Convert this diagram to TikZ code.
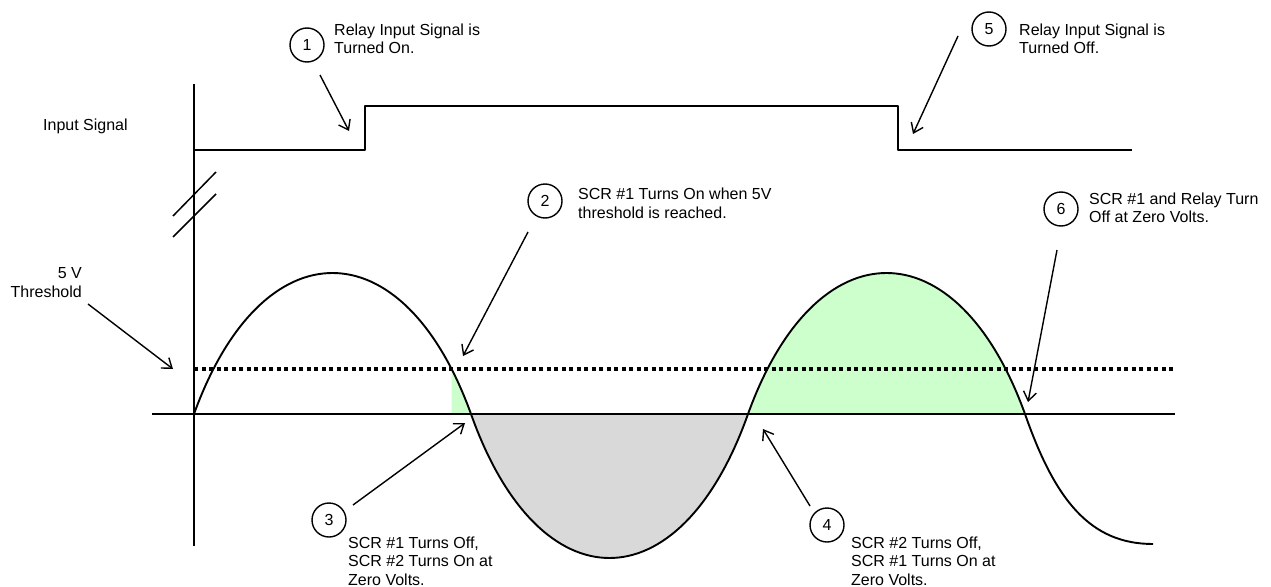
\documentclass[tikz,border=0pt]{standalone}
\usepackage{fontspec}
\setmainfont{Liberation Sans}
\usetikzlibrary{arrows.meta}
\definecolor{onfill}{HTML}{CCFFCC}
\definecolor{offfill}{HTML}{D9D9D9}
\begin{document}
\begin{tikzpicture}[x=1pt,y=-1pt,
  wave/.style={line width=1.9pt, line join=round},
  thin line/.style={line width=1.5pt},
  ptr/.style={line width=1.4pt, -{Straight Barb[length=9pt,width=13pt,line width=1.4pt]}},
  num/.style={circle, draw, line width=1.4pt, minimum size=34pt, inner sep=0pt, font=\fontsize{16}{18.5}\selectfont},
  lbl/.style={font=\fontsize{16}{18.5}\selectfont, inner sep=0pt, align=left, anchor=north west},
  thr/.style={line width=3.5pt, dash pattern=on 4pt off 3.5pt}]
\useasboundingbox (0,0) rectangle (1271,586);

% fills
\begin{scope}
  \clip (451.5,300) rectangle (471,414);
  \fill[onfill] (194,414) .. controls (262,226) and (403,226) .. (471,414) -- cycle;
\end{scope}
\fill[offfill] (471,414) .. controls (539,606) and (680,606) .. (748,414) -- cycle;
\fill[onfill] (748,414) .. controls (816,226) and (957,226) .. (1025,414) -- cycle;

% axes
\draw[wave] (194,84) -- (194,546);
\draw[wave] (152,414) -- (1175,414);
\draw[thin line] (173,216) -- (216,172);
\draw[thin line] (173,237) -- (216,194);

% input signal
\draw[wave] (194,150) -- (365,150) -- (365,106) -- (898,106) -- (898,150) -- (1132,150);

% threshold
\draw[thr] (194,369) -- (1173,369);

% waveform
\draw[wave] (194,414) .. controls (262,226) and (403,226) .. (471,414)
  .. controls (539,606) and (680,606) .. (748,414)
  .. controls (816,226) and (957,226) .. (1025,414)
  .. controls (1055,500) and (1090,544) .. (1153,544);

% labels
\node[lbl, anchor=base west] (insig) at (43,130) {Input Signal};
\node[lbl, align=right, anchor=north east] (thlbl) at (82,267.3) {5 V\\Threshold};

\node[num] (n1) at (307,45) {1};
\node[lbl] (t1) at (334,23.3) {Relay Input Signal is\\Turned On.};
\node[num] (n5) at (989,29) {5};
\node[lbl] (t5) at (1019,23.3) {Relay Input Signal is\\Turned Off.};
\node[num] (n2) at (545,201) {2};
\node[lbl] (t2) at (578,187.8) {SCR \#1 Turns On when 5V\\threshold is reached.};
\node[num] (n6) at (1061,209) {6};
\node[lbl] (t6) at (1089,192.3) {SCR \#1 and Relay Turn\\Off at Zero Volts.};
\node[num] (n3) at (329,520) {3};
\node[lbl] (t3) at (348,536.3) {SCR \#1 Turns Off,\\SCR \#2 Turns On at\\Zero Volts.};
\node[num] (n4) at (827,525) {4};
\node[lbl] (t4) at (851,536.3) {SCR \#2 Turns Off,\\SCR \#1 Turns On at\\Zero Volts.};

% arrow ends
\coordinate (s1) at (320,75);   \coordinate (e1) at (349,131);
\coordinate (s5) at (958,36);   \coordinate (e5) at (913,134);
\coordinate (s2) at (528,232);  \coordinate (e2) at (463,356);
\coordinate (s6) at (1057,250); \coordinate (e6) at (1028,402);
\coordinate (s3) at (353,505);  \coordinate (e3) at (465,423);
\coordinate (s4) at (810,506);  \coordinate (e4) at (763,429);
\coordinate (sT) at (88,304);   \coordinate (eT) at (173,369);

\draw[ptr] (s1) -- (e1);
\draw[ptr] (s5) -- (e5);
\draw[ptr] (s2) -- (e2);
\draw[ptr] (s6) -- (e6);
\draw[ptr] (s3) -- (e3);
\draw[ptr] (s4) -- (e4);
\draw[ptr] (sT) -- (eT);
\end{tikzpicture}
\end{document}
